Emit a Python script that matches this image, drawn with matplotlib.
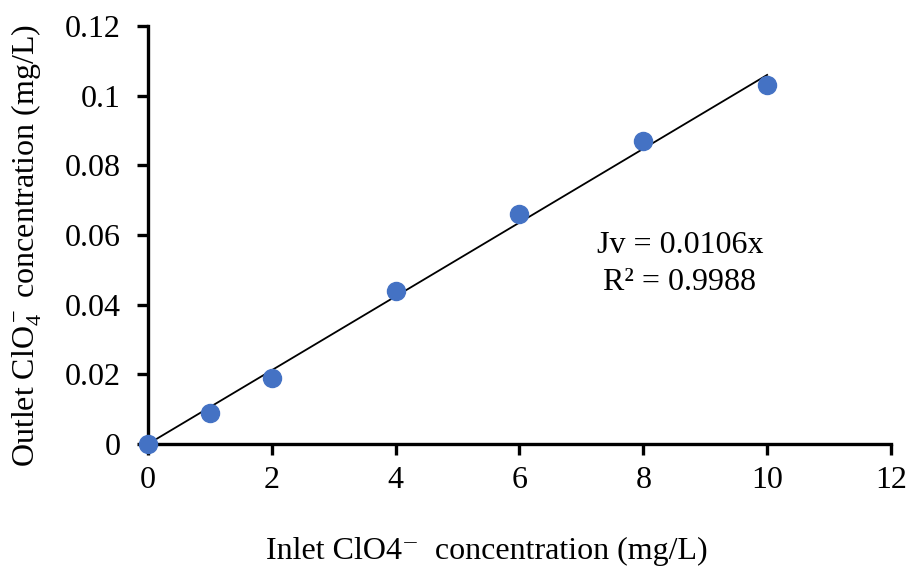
import matplotlib
matplotlib.use('Agg')
import matplotlib.pyplot as plt
import numpy as np

###############################################################################
# Data

inlet = [0, 1, 2, 4, 6, 8, 10]  # Inlet ClO4- (mg/L)
outlet = [0, 0.009, 0.019, 0.044, 0.066, 0.087, 0.103]  # Outlet ClO4- (mg/L)
slope = 0.0106  # Fitted line through origin
fit_x = [0, 10]
x_ticks = [0, 2, 4, 6, 8, 10, 12]
y_ticks = [0, 0.02, 0.04, 0.06, 0.08, 0.1, 0.12]
y_tick_labels = ['0', '0.02', '0.04', '0.06', '0.08', '0.1', '0.12']

###############################################################################

plt.rcParams['font.family'] = ['Liberation Serif', 'DejaVu Serif']
plt.rcParams['mathtext.fontset'] = 'custom'
plt.rcParams['mathtext.rm'] = 'Liberation Serif'
plt.rcParams['mathtext.it'] = 'Liberation Serif:italic'

my_dpi = 100
fs = 23
fig = plt.figure(figsize=(911/my_dpi, 569/my_dpi), dpi=my_dpi)
ax = fig.add_axes([0.1625, 0.2197, 0.978-0.1625, 0.954-0.2197])

fit_y = [slope*x for x in fit_x]
ax.plot(fit_x, fit_y, color='black', lw=1.3, zorder=2)
ax.plot(inlet, outlet, 'o', color='#4472C4', ms=13, zorder=3, clip_on=False)

ax.set_xlim(0, 12)
ax.set_ylim(0, 0.12)
ax.set_xticks(x_ticks)
ax.set_yticks(y_ticks)
ax.set_yticklabels(y_tick_labels)

for s in ['top', 'right']:
    ax.spines[s].set_visible(False)
for s in ['left', 'bottom']:
    ax.spines[s].set_linewidth(2.4)
ax.tick_params(direction='out', length=8, width=2.4, labelsize=fs)
ax.tick_params(axis='y', pad=12)
ax.tick_params(axis='x', pad=8)

ax.set_xlabel('Inlet ClO4\u207b  concentration (mg/L)', fontsize=fs, va='center')
ax.xaxis.set_label_coords(0.456, -0.258)
ax.set_ylabel(r'Outlet ClO$_4^-$ concentration (mg/L)', fontsize=fs, va='center')
ax.yaxis.set_label_coords(-0.163, 0.476)

ax.text(8.59, 0.0571, 'Jv = 0.0106x', fontsize=fs, ha='center', va='center')
ax.text(8.59, 0.0465, 'R\u00b2 = 0.9988', fontsize=fs, ha='center', va='center')

fig.savefig('out.png', dpi=my_dpi)
